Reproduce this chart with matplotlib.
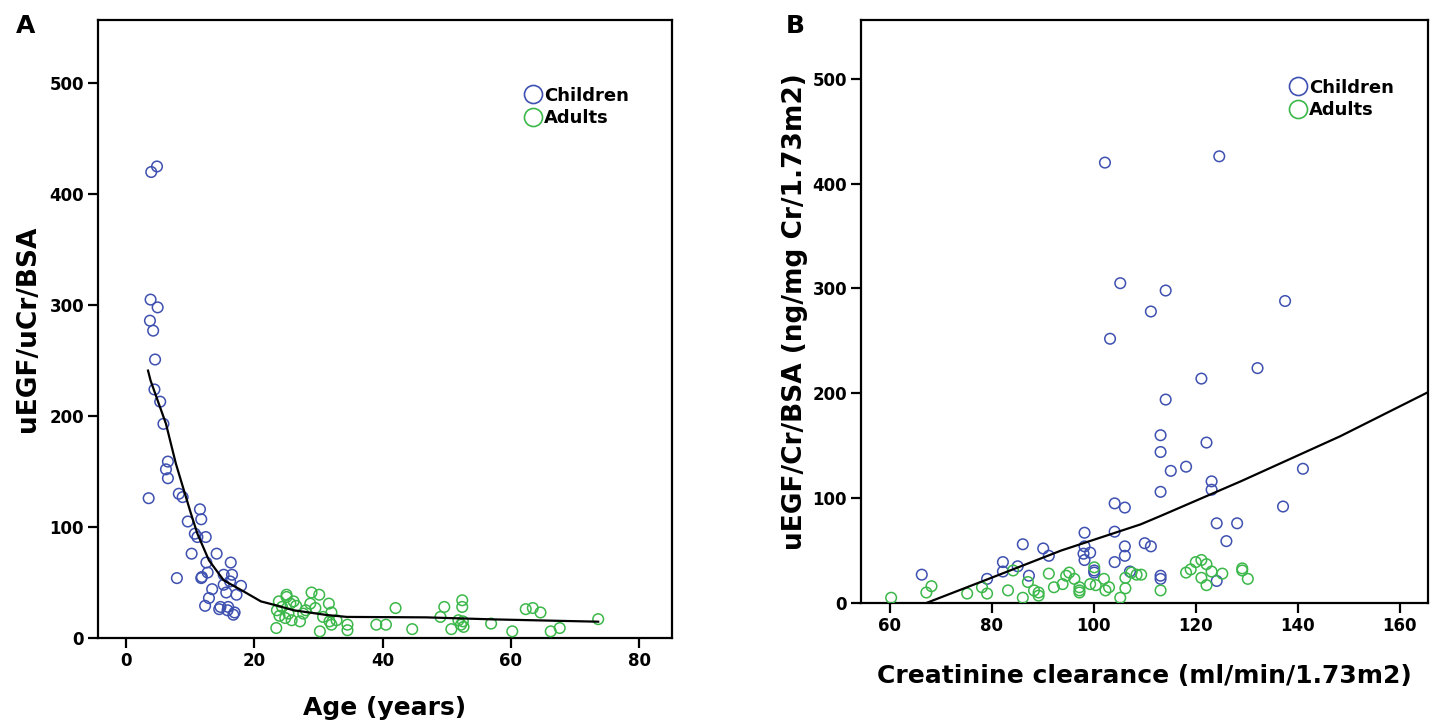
import matplotlib
matplotlib.use("Agg")
import matplotlib.pyplot as plt
from matplotlib.lines import Line2D

# ── Panel A: age vs uEGF/uCr/BSA ─────────────────────────────────────────────
a_child_age = [3.9, 4.8, 3.8, 4.9, 3.7, 4.2, 4.5, 4.4, 5.3, 5.8, 6.5, 6.2, 6.5,
               3.5, 8.2, 8.8, 11.5, 11.7, 9.6, 10.7, 12.4, 11.1, 10.2, 14.1,
               12.5, 16.3, 7.9, 11.8, 12.7, 11.7, 15.2, 16.5, 16.2, 17.9, 13.4,
               15.2, 15.6, 17.2, 12.9, 12.3, 14.7, 14.5, 15.9, 15.8, 16.9, 16.7]
a_child_val = [420, 425, 305, 298, 286, 277, 251, 224, 213, 193, 159, 152, 144,
               126, 130, 127, 116, 107, 105, 94, 91, 91, 76, 76,
               68, 68, 54, 55, 59, 54, 57, 57, 51, 47, 44,
               48, 41, 39, 36, 29, 28, 26, 28, 25, 23, 21]

a_adult_age = [23.4, 23.8, 23.9, 25.0, 24.3, 25.6, 26.1, 25.3, 25.8, 24.8, 27.1,
               28.9, 30.1, 28.7, 29.5, 27.6, 31.6, 32.0, 30.7, 31.7, 32.0, 30.2,
               32.8, 34.5, 34.5, 39.0, 40.5, 42.0, 44.6, 49.6, 49.0, 50.7, 52.4,
               52.4, 51.8, 52.5, 52.2, 52.6, 56.9, 60.2, 62.3, 63.4, 64.6, 66.2,
               67.6, 73.6, 25.0, 23.5, 26.5, 28.0]
a_adult_val = [9, 33, 20, 39, 28, 31, 33, 22, 16, 18, 15,
               41, 39, 31, 27, 22, 31, 23, 19, 15, 12, 6,
               16, 12, 7, 12, 12, 27, 8, 28, 19, 8, 34,
               28, 16, 15, 12, 10, 13, 6, 26, 27, 23, 6,
               9, 17, 37, 25, 29, 25]

a_fit_age = [3.4, 3.8, 6.2, 7.75, 10.1, 11.1, 12.9, 15.2, 18.3, 21.0, 23.0,
             26.1, 31.3, 34.4, 46.8, 57.1, 73.6]
a_fit_val = [241, 232, 193, 157, 112, 94, 70, 52, 42, 33, 30,
             25, 20.7, 19, 18.6, 16.8, 14.7]

# ── Panel B: creatinine clearance vs uEGF/Cr/BSA ─────────────────────────────
b_child_ccr = [102.2, 105.2, 114.1, 111.2, 103.2, 124.6, 137.5, 121.1, 132.1,
               114.1, 113.1, 113.1, 122.1, 115.1, 118.1, 123.1, 123.1, 113.1,
               141.0, 137.1, 124.1, 128.1, 126.0, 110.0, 111.2, 113.1, 113.1,
               124.1, 66.3, 79.1, 82.2, 82.2, 85.1, 86.1, 87.3, 90.1, 91.2,
               98.2, 98.2, 98.0, 99.3, 98.2, 100.1, 100.1, 104.1, 106.1, 104.1,
               106.1, 106.1, 104.1, 107.1]
b_child_val = [420, 305, 298, 278, 252, 426, 288, 214, 224,
               194, 160, 144, 153, 126, 130, 116, 108, 106,
               128, 92, 76, 76, 59, 57, 54, 26, 23,
               21, 27, 23, 39, 30, 35, 56, 26, 52, 45,
               67, 54, 47, 48, 41, 31, 29, 95, 91, 68,
               54, 45, 39, 30]

b_adult_ccr = [60.3, 67.2, 68.2, 75.2, 78.1, 79.1, 83.2, 84.2, 86.1, 87.1, 88.3,
               89.2, 89.2, 91.2, 92.2, 93.9, 94.6, 95.2, 96.2, 97.2, 97.2, 97.2,
               99.3, 100.1, 100.4, 102.0, 103.0, 102.3, 105.2, 106.2, 106.2,
               107.4, 108.4, 109.3, 113.1, 118.1, 119.0, 120.0, 121.1, 122.1,
               121.1, 123.1, 125.2, 122.1, 129.1, 129.1, 130.2]
b_adult_val = [5, 10, 16, 9, 15, 9, 12, 31, 5, 20, 12,
               10, 7, 28, 15, 18, 26, 29, 23, 15, 10, 12,
               18, 34, 17, 23, 15, 12, 5, 14, 24,
               29, 27, 27, 12, 29, 32, 39, 41, 37,
               24, 30, 28, 17, 33, 31, 23]

b_fit_ccr = [67.2, 79.3, 93.6, 109.2, 113.1, 128.8, 148.3, 165.5]
b_fit_val = [0, 22.8, 50, 75, 83, 116, 159, 201]

BLUE = "#3f51b0"
GREEN = "#3cb84a"

plt.rcParams["font.family"] = "DejaVu Sans"
plt.rcParams["font.weight"] = "bold"

fig = plt.figure(figsize=(14.37, 7.25), dpi=100)
ax_a = fig.add_axes([0.0682, 0.12, 0.3994, 0.8524])
ax_b = fig.add_axes([0.5992, 0.1683, 0.3945, 0.8041])

marker_kw = dict(s=58, facecolors="none", linewidths=1.1, zorder=3)


def style(ax):
    for sp in ax.spines.values():
        sp.set_linewidth(1.6)
        sp.set_color("black")
    ax.tick_params(direction="out", length=7, width=1.6, labelsize=12, pad=3)
    for lab in ax.get_xticklabels() + ax.get_yticklabels():
        lab.set_fontweight("bold")


def legend(ax, x, y):
    handles = [
        Line2D([], [], marker="o", linestyle="none", markersize=13,
               markerfacecolor="none", markeredgecolor=BLUE, markeredgewidth=1.2,
               label="Children"),
        Line2D([], [], marker="o", linestyle="none", markersize=13,
               markerfacecolor="none", markeredgecolor=GREEN, markeredgewidth=1.2,
               label="Adults"),
    ]
    ax.legend(handles=handles, loc="upper left", bbox_to_anchor=(x, y),
              frameon=False, handlelength=1.0, handletextpad=0.1,
              labelspacing=0.25, prop={"weight": "bold", "size": 13},
              borderaxespad=0)


# Panel A
ax_a.scatter(a_child_age, a_child_val, edgecolors=BLUE, **marker_kw)
ax_a.scatter(a_adult_age, a_adult_val, edgecolors=GREEN, **marker_kw)
ax_a.plot(a_fit_age, a_fit_val, color="black", linewidth=1.6, zorder=4)
ax_a.set_xlim(-4.4, 85.1)
ax_a.set_ylim(0, 557)
ax_a.set_xticks([0, 20, 40, 60, 80])
ax_a.set_yticks([0, 100, 200, 300, 400, 500])
style(ax_a)
ax_a.set_xlabel("Age (years)", fontsize=18, fontweight="bold", labelpad=19)
ax_a.set_ylabel("uEGF/uCr/BSA", fontsize=19, fontweight="bold", labelpad=6)
legend(ax_a, 0.73, 0.904)

# Panel B
ax_b.scatter(b_child_ccr, b_child_val, edgecolors=BLUE, **marker_kw)
ax_b.scatter(b_adult_ccr, b_adult_val, edgecolors=GREEN, **marker_kw)
ax_b.plot(b_fit_ccr, b_fit_val, color="black", linewidth=1.6, zorder=4)
ax_b.set_xlim(54.4, 165.5)
ax_b.set_ylim(0, 556)
ax_b.set_xticks([60, 80, 100, 120, 140, 160])
ax_b.set_yticks([0, 100, 200, 300, 400, 500])
style(ax_b)
ax_b.set_xlabel("Creatinine clearance (ml/min/1.73m2)", fontsize=18,
                fontweight="bold", labelpad=21)
ax_b.set_ylabel("uEGF/Cr/BSA (ng/mg Cr/1.73m2)", fontsize=19,
                fontweight="bold", labelpad=3)
legend(ax_b, 0.742, 0.912)

fig.text(0.011, 0.955, "A", fontsize=18, fontweight="bold")
fig.text(0.547, 0.955, "B", fontsize=18, fontweight="bold")

fig.savefig("out.png", dpi=100, facecolor="white")
